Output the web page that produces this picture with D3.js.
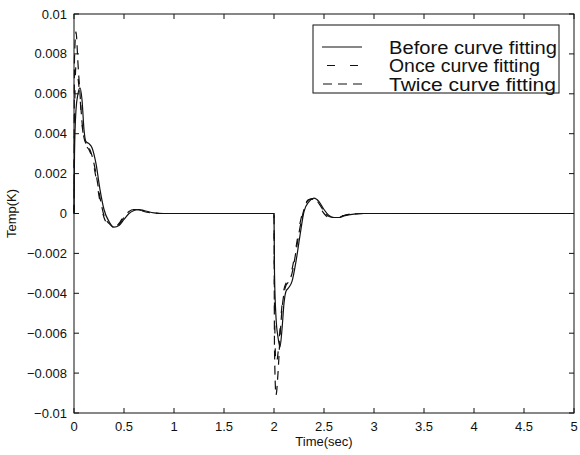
<!DOCTYPE html>
<html>
<head>
<meta charset="utf-8">
<script src="https://cdn.jsdelivr.net/npm/d3@7"></script>
<style>
  body { margin: 0; background: #fff; }
  text { font-family: "Liberation Sans", Arial, sans-serif; fill: #111; }
</style>
</head>
<body>
<script>
const width = 580;
const height = 455;
const marginTop = 14;
const marginRight = 6;
const marginBottom = 42;
const marginLeft = 74;

// time samples (sec)
const time = [0, 0.005, 0.02, 0.04, 0.06, 0.08, 0.1, 0.12, 0.15, 0.18, 0.22, 0.26, 0.3, 0.35, 0.4, 0.45, 0.5, 0.55, 0.6, 0.65, 0.7, 0.8, 0.9, 1.0, 1.5, 2.0,
  2.005, 2.02, 2.04, 2.06, 2.08, 2.1, 2.12, 2.15, 2.18, 2.22, 2.26, 2.3, 2.35, 2.4, 2.45, 2.5, 2.55, 2.6, 2.65, 2.7, 2.8, 2.9, 3.0, 4.0, 5.0];

const before = [0, 0.0030, 0.0052, 0.0060, 0.0063, 0.0057, 0.0042, 0.0036, 0.0035, 0.0033, 0.0025, 0.0012, 0.0002, -0.0004, -0.00068, -0.0006, -0.0003, 0, 0.00015, 0.0002, 0.00015, 0.00003, 0, 0, 0, 0,
  -0.0030, -0.0052, -0.0062, -0.0067, -0.0058, -0.0045, -0.0039, -0.0037, -0.0034, -0.0024, -0.0011, 0.0001, 0.0006, 0.00077, 0.0006, 0.0002, -0.0001, -0.0002, -0.0002, -0.00012, -0.00003, 0, 0, 0, 0];

const once = [0, 0.0045, 0.0074, 0.0068, 0.0058, 0.0045, 0.0037, 0.0034, 0.0032, 0.0028, 0.0018, 0.0006, -0.0002, -0.0006, -0.0007, -0.0005, -0.0001, 0.00012, 0.0002, 0.00018, 0.0001, 0.00002, 0, 0, 0, 0,
  -0.0045, -0.0076, -0.0070, -0.0058, -0.0046, -0.0038, -0.0035, -0.0033, -0.0028, -0.0017, -0.0005, 0.0003, 0.0007, 0.00072, 0.0004, 0, -0.0002, -0.0002, -0.00015, -0.0001, 0, 0, 0, 0, 0];

const twice = [0, 0.0078, 0.0091, 0.0075, 0.0060, 0.0046, 0.0038, 0.0035, 0.0033, 0.0029, 0.0020, 0.0008, -0.0001, -0.0005, -0.0007, -0.00055, -0.0002, 0.0001, 0.0002, 0.0002, 0.0001, 0.00002, 0, 0, 0, 0,
  -0.0068, -0.0091, -0.0080, -0.0062, -0.0048, -0.0040, -0.0036, -0.0034, -0.0030, -0.0019, -0.0007, 0.0002, 0.0007, 0.00075, 0.0005, 0.0001, -0.00015, -0.0002, -0.00018, -0.0001, -0.00002, 0, 0, 0, 0];

const seriesNames = ["Before curve fitting", "Once curve fitting", "Twice curve fitting"];
const xTicks = [0, 0.5, 1, 1.5, 2, 2.5, 3, 3.5, 4, 4.5, 5];
const yTicks = [-0.01, -0.008, -0.006, -0.004, -0.002, 0, 0.002, 0.004, 0.006, 0.008, 0.01];

const dashes = [null, "8,15", "9,6"];

const x = d3.scaleLinear().domain([0, 5]).range([marginLeft, width - marginRight]);
const y = d3.scaleLinear().domain([-0.01, 0.01]).range([height - marginBottom, marginTop]);

const svg = d3.select("body").append("svg")
    .attr("width", width)
    .attr("height", height);

const yFmt = d => d === 0 ? "0" : String(+d.toFixed(3)).replace("-", "\u2212");

// ticks (inward on all four sides)
const tickLen = 5;
const ticks = svg.append("g").attr("stroke", "#111").attr("stroke-width", 1);
xTicks.forEach(t => {
  ticks.append("line").attr("x1", x(t)).attr("x2", x(t)).attr("y1", y(-0.01)).attr("y2", y(-0.01) - tickLen);
  ticks.append("line").attr("x1", x(t)).attr("x2", x(t)).attr("y1", y(0.01)).attr("y2", y(0.01) + tickLen);
});
yTicks.forEach(t => {
  ticks.append("line").attr("x1", x(0)).attr("x2", x(0) + tickLen).attr("y1", y(t)).attr("y2", y(t));
  ticks.append("line").attr("x1", x(5)).attr("x2", x(5) - tickLen).attr("y1", y(t)).attr("y2", y(t));
});

// tick labels
svg.append("g").selectAll("text")
  .data(xTicks)
  .join("text")
    .attr("x", d => x(d))
    .attr("y", y(-0.01) + 18)
    .attr("text-anchor", "middle")
    .attr("font-size", 13)
    .text(d => d);

svg.append("g").selectAll("text")
  .data(yTicks)
  .join("text")
    .attr("x", x(0) - 7)
    .attr("y", d => y(d) + 4.5)
    .attr("text-anchor", "end")
    .attr("font-size", 13)
    .text(yFmt);

// axis titles
svg.append("text")
  .attr("x", (x(0) + x(5)) / 2)
  .attr("y", height - 9)
  .attr("text-anchor", "middle")
  .attr("font-size", 13)
  .text("Time(sec)");

svg.append("text")
  .attr("transform", `translate(16,${y(0)}) rotate(-90)`)
  .attr("text-anchor", "middle")
  .attr("font-size", 13)
  .text("Temp(K)");

// curves
const line = d3.line()
    .x((d, i) => x(time[i]))
    .y(d => y(d))
    .curve(d3.curveMonotoneX);

[before, once, twice].forEach((s, i) => {
  svg.append("path")
    .attr("d", line(s))
    .attr("fill", "none")
    .attr("stroke", "#111")
    .attr("stroke-width", 1.2)
    .attr("stroke-dasharray", dashes[i]);
});

// frame
svg.append("rect")
  .attr("x", x(0))
  .attr("y", y(0.01))
  .attr("width", x(5) - x(0))
  .attr("height", y(-0.01) - y(0.01))
  .attr("fill", "none")
  .attr("stroke", "#111")
  .attr("stroke-width", 1);

// legend
const legend = svg.append("g");
legend.append("rect")
  .attr("x", 313).attr("y", 25)
  .attr("width", 246).attr("height", 68)
  .attr("fill", "#fff")
  .attr("stroke", "#111")
  .attr("stroke-width", 1);

const legendLines = [[322, 362], [327, 358], [323, 362]];
seriesNames.forEach((name, i) => {
  const ly = 47 + i * 18.5;
  legend.append("line")
    .attr("x1", legendLines[i][0]).attr("x2", legendLines[i][1])
    .attr("y1", ly).attr("y2", ly)
    .attr("stroke", "#111")
    .attr("stroke-width", 1.2)
    .attr("stroke-dasharray", dashes[i]);
  legend.append("text")
    .attr("x", 389)
    .attr("y", ly + 6.5)
    .attr("font-size", 18)
    .attr("textLength", [168, 151, 167][i])
    .attr("lengthAdjust", "spacingAndGlyphs")
    .text(name);
});
</script>
</body>
</html>
